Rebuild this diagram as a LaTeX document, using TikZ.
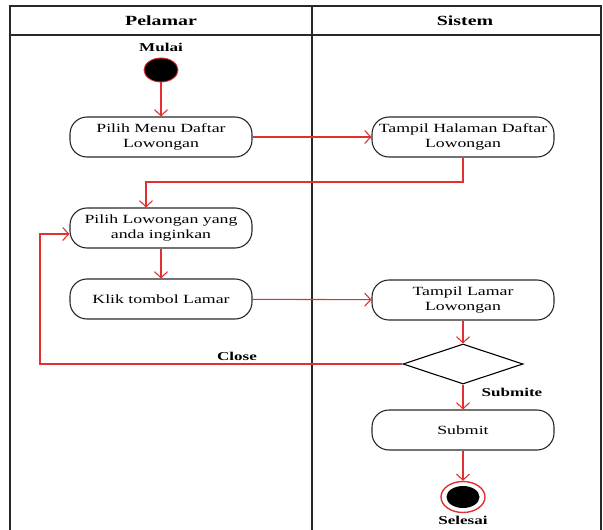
\documentclass[tikz,border=0pt]{standalone}
\usepackage{fontspec}
\setmainfont{Liberation Serif}[FakeStretch=1.42]
\usetikzlibrary{arrows.meta,shapes.geometric}
\definecolor{flow}{RGB}{226,48,48}
\definecolor{edge}{RGB}{40,40,40}
\tikzset{
  act/.style={draw=edge,line width=1.1pt,rounded corners=17pt,minimum width=182pt,minimum height=40pt,align=center,font=\fontsize{12.5}{15}\selectfont,inner sep=0pt},
  flowarrow/.style={draw=flow,line width=1.1pt,-{Straight Barb[length=6pt,width=13pt]}},
  lbl/.style={font=\fontsize{12}{14}\selectfont\bfseries,inner sep=0pt},
  lane/.style={draw=edge,line width=1.2pt}
}
\begin{document}
\begin{tikzpicture}[x=1pt,y=-1pt]
\useasboundingbox (0,0) rectangle (603,530);
% swimlane frame
\draw[lane] (10,530) -- (10,6) -- (601,6) -- (601,530);
\draw[lane] (10,35) -- (601,35);
\draw[lane] (312,6) -- (312,530);
\node[font=\fontsize{14}{16}\selectfont\bfseries] (hP) at (161,21) {Pelamar};
\node[font=\fontsize{14}{16}\selectfont\bfseries] (hS) at (465,21) {Sistem};
% nodes
\node[lbl] (mulai) at (161,47) {Mulai};
\node[ellipse,fill=black,draw=flow,line width=0.9pt,minimum width=34pt,minimum height=24pt,inner sep=0pt] (start) at (161,70) {};
\node[act] (b1) at (161,137) {Pilih Menu Daftar\\Lowongan};
\node[act] (b2) at (463,137) {Tampil Halaman Daftar\\Lowongan};
\node[act] (b3) at (161,228) {Pilih Lowongan yang\\anda inginkan};
\node[act] (b4) at (161,299) {Klik tombol Lamar};
\node[act] (b5) at (463,300) {Tampil Lamar\\Lowongan};
\node[diamond,draw=black,line width=1.1pt,minimum width=120pt,minimum height=40pt,aspect=3,inner sep=0pt] (dia) at (463,364) {};
\node[act] (sub) at (463,430) {Submit};
\node[ellipse,draw=flow,line width=1.4pt,minimum width=44pt,minimum height=31pt,inner sep=0pt] (endO) at (463,497) {};
\node[ellipse,fill=black,minimum width=33pt,minimum height=22pt,inner sep=0pt] (endI) at (463,497) {};
\node[lbl] (close) at (237,356) {Close};
\node[lbl] (submite) at (512,392) {Submite};
\node[lbl] (selesai) at (463,520) {Selesai};
% helper coordinates
\coordinate (k1) at (146,182);
\coordinate (k2) at (40,364);
% connectors
\draw[flowarrow] (start) -- (b1);
\draw[flowarrow] (b1) -- (b2);
\draw[flowarrow] (b2.south) |- (k1) -- (k1 |- b3.north);
\draw[flowarrow] (b3) -- (b4);
\draw[flowarrow] (b4) -- (b5);
\draw[flowarrow] (b5) -- (dia);
\draw[flowarrow] (dia.west) -- (k2) |- ([yshift=-6pt]b3.west);
\draw[flowarrow] (dia) -- (sub);
\draw[flowarrow] (sub) -- (endO);
\end{tikzpicture}
\end{document}
